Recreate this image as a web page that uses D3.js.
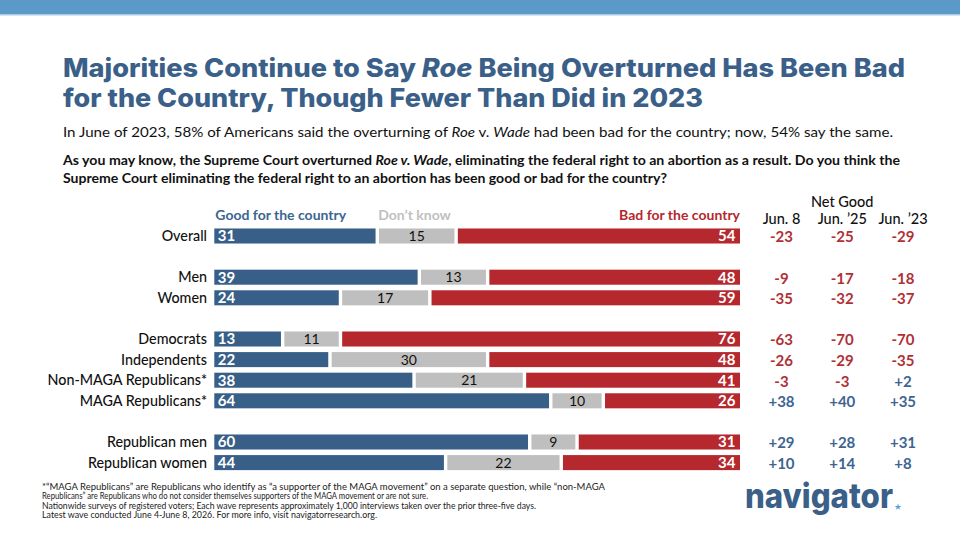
<!DOCTYPE html>
<html>
<head>
<meta charset="utf-8">
<script src="https://cdn.jsdelivr.net/npm/d3@7"></script>
<style>
  body { margin: 0; background: #fff; }
  svg { display: block; font-family: Lato, "Noto Sans", sans-serif; }
</style>
</head>
<body>
<svg id="chart" width="960" height="540"></svg>
<script>
// rows of the chart (blank rows are gaps between groups)
const rows = ["Overall", "", "Men", "Women", "", "Democrats", "Independents",
  "Non-MAGA Republicans*", "MAGA Republicans*", "", "Republican men", "Republican women"];
const categories = ["Overall", "Men", "Women", "Democrats", "Independents",
  "Non-MAGA Republicans*", "MAGA Republicans*", "Republican men", "Republican women"];
const good = [31, 39, 24, 13, 22, 38, 64, 60, 44];
const dontKnow = [15, 13, 17, 11, 30, 21, 10, 9, 22];
const bad = [54, 48, 59, 76, 48, 41, 26, 31, 34];

const netColumns = ["Jun. 8", "Jun. \u201925", "Jun. \u201923"];
const netJun8 = [-23, -9, -35, -63, -26, -3, 38, 29, 10];
const netJun25 = [-25, -17, -32, -70, -29, -3, 40, 28, 14];
const netJun23 = [-29, -18, -37, -70, -35, 2, 35, 31, 8];

const BLUE = "#385f88", RED = "#b5282e", GREY = "#bfbfbf";

const svg = d3.select("#chart");

// top band
svg.append("rect").attr("x", 0).attr("y", 0).attr("width", 960).attr("height", 14).attr("fill", "#5b99c9");
svg.append("rect").attr("x", 0).attr("y", 14).attr("width", 960).attr("height", 1.5).attr("fill", "#a9cbe6");

// fit a text line to a given width
function fit(sel, w) {
  sel.attr("textLength", w).attr("lengthAdjust", "spacingAndGlyphs");
}

// title
const title = svg.append("g").attr("fill", "#3a6089").attr("font-family", "Inter, Lato, sans-serif")
  .attr("font-weight", 800).attr("font-size", 25.5);
const t1 = title.append("text").attr("x", 63).attr("y", 77);
t1.append("tspan").text("Majorities Continue to Say ");
t1.append("tspan").attr("font-style", "italic").text("Roe");
t1.append("tspan").text(" Being Overturned Has Been Bad");
fit(t1, 842);
const t2 = title.append("text").attr("x", 63).attr("y", 107).text("for the Country, Though Fewer Than Did in 2023");
fit(t2, 640);

// subtitle
const sub = svg.append("text").attr("x", 63).attr("y", 137).attr("font-size", 13).attr("fill", "#111");
sub.append("tspan").text("In June of 2023, 58% of Americans said the overturning of ");
sub.append("tspan").attr("font-style", "italic").text("Roe");
sub.append("tspan").text(" v. ");
sub.append("tspan").attr("font-style", "italic").text("Wade");
sub.append("tspan").text(" had been bad for the country; now, 54% say the same.");
fit(sub, 830);

// question
const q = svg.append("g").attr("font-size", 12.5).attr("font-weight", 700).attr("fill", "#111");
const q1 = q.append("text").attr("x", 63).attr("y", 165);
q1.append("tspan").text("As you may know, the Supreme Court overturned ");
q1.append("tspan").attr("font-style", "italic").text("Roe v. Wade");
q1.append("tspan").text(", eliminating the federal right to an abortion as a result. Do you think the");
fit(q1, 837);
const q2 = q.append("text").attr("x", 63).attr("y", 183)
  .text("Supreme Court eliminating the federal right to an abortion has been good or bad for the country?");
fit(q2, 604);

// scales
const x = d3.scaleLinear().domain([0, 100]).range([214.3, 740]);
const y = d3.scaleBand().domain(d3.range(rows.length)).range([225.7, 472.9])
  .paddingInner(0.27).paddingOuter(0.135);
const rowIndex = categories.map(c => rows.indexOf(c));
const netX = d3.scalePoint().domain(netColumns).range([781.5, 903]);

const data = categories.map((c, i) => ({
  name: c, row: rowIndex[i],
  segs: [
    { key: "good", v: good[i], x0: 0, x1: good[i] },
    { key: "dk", v: dontKnow[i], x0: good[i], x1: good[i] + dontKnow[i] },
    { key: "bad", v: bad[i], x0: good[i] + dontKnow[i], x1: 100 }
  ],
  net: [netJun8[i], netJun25[i], netJun23[i]]
}));

const fillOf = { good: BLUE, dk: GREY, bad: RED };
const gap = 1.7;

// legend
const legend = svg.append("g").attr("font-size", 14).attr("font-weight", 700);
legend.append("text").attr("x", x(0) + 1).attr("y", 220).attr("fill", "#3b6591").text("Good for the country");
legend.append("text").attr("x", x(31) + 1).attr("y", 220).attr("fill", "#c0c0c0").text("Don\u2019t know");
legend.append("text").attr("x", x(100)).attr("y", 220).attr("text-anchor", "end").attr("fill", RED).text("Bad for the country");

// category labels
svg.append("g").selectAll("text").data(data).join("text")
  .attr("x", 207)
  .attr("y", d => y(d.row) + y.bandwidth() / 2)
  .attr("dy", "0.36em")
  .attr("text-anchor", "end")
  .attr("font-size", 14.3)
  .attr("font-weight", 500)
  .attr("fill", "#111")
  .text(d => d.name);

// bars
const rowG = svg.append("g").selectAll("g").data(data).join("g")
  .attr("transform", d => `translate(0,${y(d.row)})`);

rowG.selectAll("rect").data(d => d.segs).join("rect")
  .attr("x", d => x(d.x0) + (d.key === "good" ? 0 : gap))
  .attr("width", d => x(d.x1) - x(d.x0) - (d.key === "good" || d.key === "bad" ? gap : 2 * gap))
  .attr("y", 0)
  .attr("height", y.bandwidth())
  .attr("fill", d => fillOf[d.key]);

rowG.selectAll("text").data(d => d.segs).join("text")
  .attr("x", d => d.key === "good" ? x(d.x0) + 3.5 : d.key === "bad" ? x(d.x1) - 4.5 : (x(d.x0) + x(d.x1)) / 2)
  .attr("y", y.bandwidth() / 2)
  .attr("dy", "0.36em")
  .attr("text-anchor", d => d.key === "good" ? "start" : d.key === "bad" ? "end" : "middle")
  .attr("font-size", d => d.key === "dk" ? 14 : 15)
  .attr("font-weight", d => d.key === "dk" ? 400 : 700)
  .attr("fill", d => d.key === "dk" ? "#111" : "#fff")
  .text(d => d.v);

// net good header
const head = svg.append("g").attr("font-size", 14.5).attr("font-weight", 500).attr("fill", "#111").attr("text-anchor", "middle");
head.append("text").attr("x", netX(netColumns[1])).attr("y", 207).text("Net Good");
head.selectAll(".col").data(netColumns).join("text").attr("class", "col")
  .attr("x", d => netX(d)).attr("y", 224).text(d => d);

// net good values
const fmt = v => (v > 0 ? "+" : "") + v;
rowG.selectAll(".net").data(d => d.net.map((v, j) => ({ v, col: netColumns[j] }))).join("text")
  .attr("class", "net")
  .attr("x", d => netX(d.col))
  .attr("y", y.bandwidth() / 2 + 1)
  .attr("dy", "0.36em")
  .attr("text-anchor", "middle")
  .attr("font-size", 15)
  .attr("font-weight", 700)
  .attr("fill", d => d.v > 0 ? "#3e6591" : "#b03036")
  .text(d => fmt(d.v));

// footnote
const notes = [
  "*\u201cMAGA Republicans\u201d are Republicans who identify as \u201ca supporter of the MAGA movement\u201d on a separate question, while \u201cnon-MAGA",
  "Republicans\u201d are Republicans who do not consider themselves supporters of the MAGA movement or are not sure.",
  "Nationwide surveys of registered voters; Each wave represents approximately 1,000 interviews taken over the prior three-five days.",
  "Latest wave conducted June 4-June 8, 2026. For more info, visit navigatorresearch.org."
];
const noteW = [563, 386, 494, 335];
svg.append("g").attr("font-size", 8.5).attr("fill", "#222").selectAll("text").data(notes).join("text")
  .attr("x", 42).attr("y", (d, i) => 490 + i * 9.3).text(d => d)
  .each(function (d, i) { fit(d3.select(this), noteW[i]); });

// logo
const logo = svg.append("text").attr("x", 745).attr("y", 508).attr("font-size", 34)
  .attr("font-family", "Inter, Lato, sans-serif").attr("font-weight", 800)
  .attr("fill", "#3a5f88").text("navigator");
fit(logo, 148);
svg.append("path")
  .attr("d", d3.symbol(d3.symbolStar, 14)())
  .attr("transform", "translate(898,507)")
  .attr("fill", "#5b9bd5");
</script>
</body>
</html>
